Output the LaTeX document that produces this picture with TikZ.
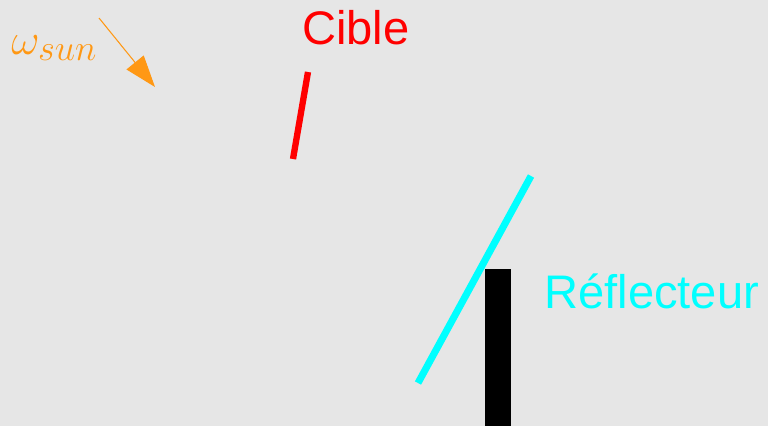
\documentclass[tikz,border=0pt]{standalone}
\usepackage{fontspec}
\setmainfont{Liberation Sans}
\usetikzlibrary{arrows.meta}
\DeclareMathSizes{25}{25}{19.5}{14}
\definecolor{bg}{RGB}{230,230,230}
\definecolor{sunorange}{RGB}{255,152,20}
\definecolor{refcyan}{RGB}{0,255,255}
\definecolor{refred}{RGB}{255,0,0}
\tikzset{
  lbl/.style={inner sep=0pt, anchor=base west, font=\fontsize{26.8}{30}\selectfont},
  bar/.style={line cap=butt},
}
\begin{document}
\begin{tikzpicture}[x=0.02cm,y=-0.02cm]
\fill[bg] (0,0) rectangle (768,426);
\useasboundingbox (0,0) rectangle (768,426);
% sun arrow
\coordinate (sunA) at (99,18);
\coordinate (sunB) at (155,87);
\draw[sunorange, line width=0.6pt, -{Triangle[length=18pt,width=12.5pt]}] (sunA) -- (sunB);
\node[inner sep=0pt, anchor=base west, text=sunorange, font=\fontsize{25}{28}\selectfont] (omega) at (11,54) {$\omega_{sun}$};
% target
\node[lbl, text=refred] (cible) at (302,44) {Cible};
\coordinate (cA) at (308,72);
\coordinate (cB) at (293,159);
\draw[refred, line width=3.6pt, bar] (cA) -- (cB);
% reflector
\coordinate (rA) at (531,176);
\coordinate (rB) at (418,383);
\draw[refcyan, line width=4pt, bar] (rA) -- (rB);
\fill[black] (485,269) rectangle (511,426);
\node[lbl, text=refcyan] (refl) at (544,308) {Réflecteur};
\end{tikzpicture}
\end{document}
